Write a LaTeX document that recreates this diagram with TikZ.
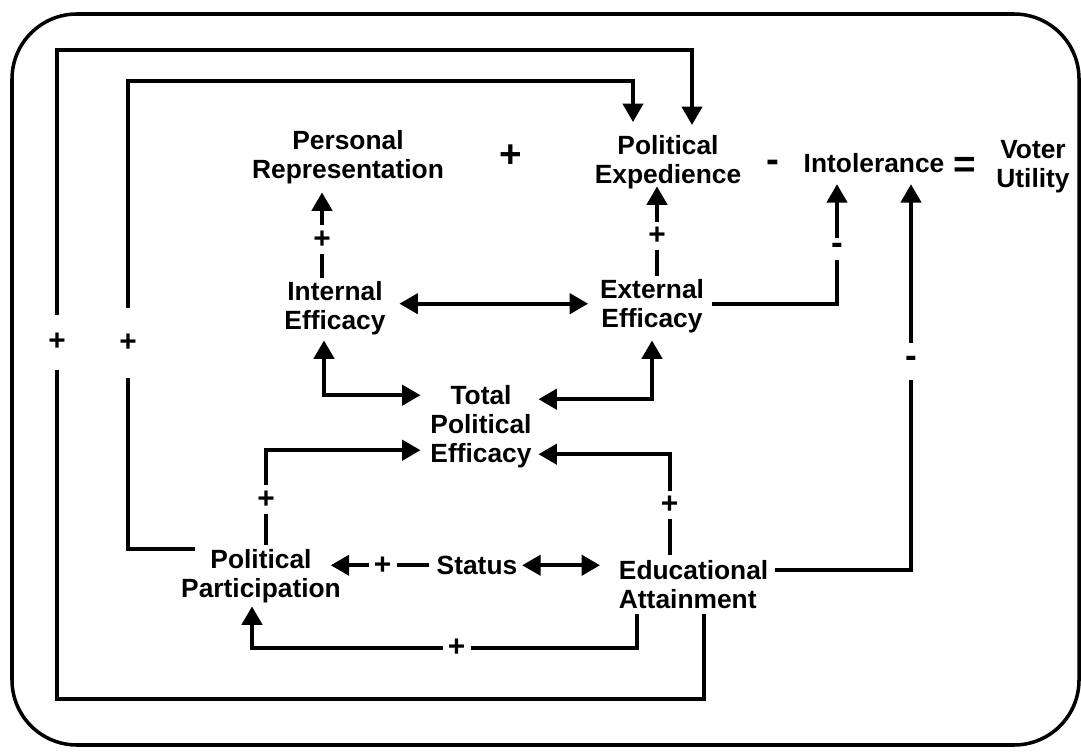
\documentclass[tikz,border=0pt]{standalone}
\usepackage{fontspec}
\setmainfont{Liberation Sans}
\usetikzlibrary{arrows.meta,calc,backgrounds}
\tikzset{
    every node/.style={font=\fontsize{15}{16.5}\selectfont\bfseries},
    >={Triangle[length=10.5pt,width=11.5pt]}
}

\begin{document}
\begin{tikzpicture}[x=0.02cm,y=-0.02cm,line width=2.2pt]
    % Define block styles
    \tikzstyle{factor} = [inner sep=0pt, align=center, anchor=north]
    \tikzstyle{sign} = [fill=white, inner sep=3pt, font=\fontsize{17}{17}\selectfont\bfseries]
    \tikzstyle{op} = [inner sep=0pt, font=\fontsize{22}{22}\selectfont\bfseries]
    \tikzstyle{panel} = [line width=2pt, rounded corners=1.3cm]

    \useasboundingbox (0,0) rectangle (1081,756);

    % Place nodes
    \node [factor] (pers) at (348,128) {Personal\\Representation};
    \node [op] (plus) at (511,156) {+};
    \node [factor] (expd) at (668,133) {Political\\Expedience};
    \node [op] (minus) at (773,166) {-};
    \node [factor] (intol) at (874,151) {Intolerance};
    \node [op] (equals) at (965,167) {=};
    \node [factor] (voter) at (1033,138) {Voter\\Utility};
    \node [factor] (intern) at (335,279) {Internal\\Efficacy};
    \node [factor] (extern) at (652,277) {External\\Efficacy};
    \node [factor] (total) at (481,383) {Total\\Political\\Efficacy};
    \node [factor] (polpart) at (261,547) {Political\\Participation};
    \node [factor] (status) at (477,554) {Status};
    \node [factor, anchor=north west, align=left] (edu) at (617,558) {Educational\\Attainment};

    % Connect nodes
    \draw [->] ($(edu.south)+(10,4)$) |- (57,699)
        -- node[sign, pos=0.55, minimum height=1.1cm] {+} (57,50)
        -| ($(expd.north)+(24,-8)$);
    \draw [->] ($(polpart.north west)+(16,2)$) -- (128,549)
        -- node[sign, pos=0.44, minimum height=1.4cm] {+} (128,81)
        -| ($(expd.north)+(-35,-11)$);
    \draw [->] ($(intern.north)+(-13,-1)$) -- node[sign, pos=0.45] {+} ($(intern.north |- pers.south)+(-13,7)$);
    \draw [->] ($(extern.north)+(5,-1)$) -- node[sign, pos=0.45] {+} ($(extern.north |- expd.south)+(5,-4)$);
    \draw [<->] ($(intern.east)+(12,-4)$) -- ($(intern.east -| extern.west)+(-10,-4)$);
    \draw [->] ($(extern.east)+(6,-2)$) -| node[sign, pos=0.73, font=\fontsize{20}{20}\selectfont\bfseries] {-} ($(intol.south)+(-37,10)$);
    \draw [->] ($(edu.north east)+(5,12)$) -| node[sign, pos=0.77, minimum height=0.75cm, font=\fontsize{20}{20}\selectfont\bfseries] {-} ($(intol.south)+(37,10)$);
    \draw [<->] ($(intern.south)+(-11,4)$) |- ($(total.west)+(-8,-31)$);
    \draw [<->] ($(extern.south)+(0,6)$) |- ($(total.east)+(5,-27)$);
    \draw [->] ($(polpart.north)+(5,-2)$) |- node[sign, pos=0.24] {+} ($(total.west)+(-8,24)$);
    \draw [->] ($(edu.north)+(-24,-3)$) |- node[sign, pos=0.25] {+} ($(total.east)+(5,28)$);
    \draw [->] ($(status.west)+(-6,0)$) -- node[sign, pos=0.47] {+} ($(status.west -| polpart.east)+(-12,0)$);
    \draw [<->] ($(status.east)+(3,0)$) -- ($(status.east -| edu.west)+(-17,0)$);
    \draw [->] ($(edu.south)+(-57,4)$) -- ++(0,34)
        -| node[sign, pos=0.234] {+} ($(polpart.south)+(-9,2)$);

    % Add background
    \begin{scope}[on background layer]
        \draw [panel] (12,14) rectangle (1079,745);
    \end{scope}
\end{tikzpicture}
\end{document}
